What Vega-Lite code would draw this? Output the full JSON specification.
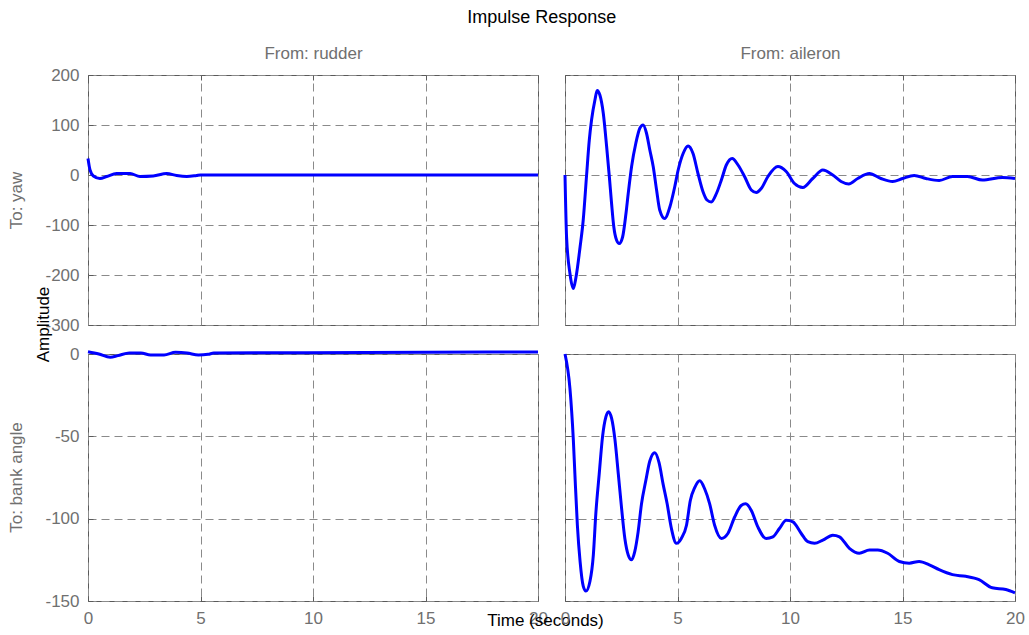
{
  "$schema": "https://vega.github.io/schema/vega-lite/v6.json",
  "padding": {"left": 6, "top": 8, "right": 5, "bottom": 5},
  "background": "white",
  "title": {"text": "Impulse Response", "anchor": "middle", "frame": "bounds", "font": "Liberation Sans", "fontSize": 18, "fontWeight": "normal", "color": "#000000", "baseline": "bottom", "offset": -1, "dx": 26},
  "columns": 2,
  "spacing": {"row": 29, "column": 27},
  "bounds": "flush",
  "datasets": {
    "yawRudder": [
      {"t": 0, "v": 33}, {"t": 0.09, "v": 10}, {"t": 0.24, "v": -2}, {"t": 0.53, "v": -7}, {"t": 0.83, "v": -3},
      {"t": 1.27, "v": 3}, {"t": 1.87, "v": 3}, {"t": 2.31, "v": -3}, {"t": 2.9, "v": -2}, {"t": 3.5, "v": 3},
      {"t": 3.94, "v": -1}, {"t": 4.39, "v": -3}, {"t": 4.83, "v": -1}, {"t": 5, "v": 0}, {"t": 10, "v": 0},
      {"t": 15, "v": 0}, {"t": 20, "v": 0}
    ],
    "yawAileron": [
      {"t": 0, "v": 0}, {"t": 0.07, "v": -124}, {"t": 0.22, "v": -197}, {"t": 0.37, "v": -227}, {"t": 0.49, "v": -204},
      {"t": 0.67, "v": -144}, {"t": 0.81, "v": -90}, {"t": 0.96, "v": 0}, {"t": 1.08, "v": 70}, {"t": 1.18, "v": 110},
      {"t": 1.33, "v": 150}, {"t": 1.43, "v": 169}, {"t": 1.55, "v": 160}, {"t": 1.7, "v": 124}, {"t": 1.85, "v": 57},
      {"t": 1.97, "v": -3}, {"t": 2.07, "v": -57}, {"t": 2.17, "v": -104}, {"t": 2.29, "v": -130}, {"t": 2.41, "v": -137},
      {"t": 2.56, "v": -124}, {"t": 2.71, "v": -77}, {"t": 2.81, "v": -37}, {"t": 2.96, "v": 17}, {"t": 3.15, "v": 64},
      {"t": 3.33, "v": 94}, {"t": 3.47, "v": 100}, {"t": 3.62, "v": 84}, {"t": 3.77, "v": 50}, {"t": 3.92, "v": 17},
      {"t": 4.07, "v": -30}, {"t": 4.21, "v": -70}, {"t": 4.43, "v": -87}, {"t": 4.66, "v": -64}, {"t": 4.88, "v": -23},
      {"t": 5.03, "v": 10}, {"t": 5.25, "v": 43}, {"t": 5.47, "v": 58}, {"t": 5.69, "v": 43}, {"t": 5.91, "v": 3},
      {"t": 6.13, "v": -33}, {"t": 6.31, "v": -50}, {"t": 6.5, "v": -54}, {"t": 6.73, "v": -37}, {"t": 6.95, "v": -10},
      {"t": 7.17, "v": 20}, {"t": 7.43, "v": 33}, {"t": 7.69, "v": 20}, {"t": 7.98, "v": -3}, {"t": 8.28, "v": -30},
      {"t": 8.5, "v": -35}, {"t": 8.72, "v": -27}, {"t": 9.02, "v": -3}, {"t": 9.46, "v": 17}, {"t": 9.83, "v": 7},
      {"t": 10.2, "v": -17}, {"t": 10.57, "v": -25}, {"t": 11.01, "v": -7}, {"t": 11.46, "v": 10}, {"t": 11.9, "v": 0},
      {"t": 12.27, "v": -13}, {"t": 12.61, "v": -18}, {"t": 13.01, "v": -7}, {"t": 13.53, "v": 3}, {"t": 14.04, "v": -7},
      {"t": 14.56, "v": -13}, {"t": 15.0, "v": -7}, {"t": 15.52, "v": -1}, {"t": 16.04, "v": -7}, {"t": 16.63, "v": -11},
      {"t": 17.22, "v": -3}, {"t": 17.89, "v": -3}, {"t": 18.55, "v": -10}, {"t": 19.44, "v": -5}, {"t": 20, "v": -7}
    ],
    "bankRudder": [
      {"t": 0, "v": 1.4}, {"t": 0.48, "v": 0}, {"t": 0.99, "v": -2}, {"t": 1.33, "v": -1}, {"t": 1.84, "v": 0.6},
      {"t": 2.35, "v": 0.6}, {"t": 2.78, "v": -0.6}, {"t": 3.38, "v": -0.6}, {"t": 3.89, "v": 1}, {"t": 4.4, "v": 0.6},
      {"t": 4.91, "v": -0.6}, {"t": 5.34, "v": -0.2}, {"t": 5.59, "v": 0.6}, {"t": 9.68, "v": 0.8}, {"t": 17.7, "v": 1.2},
      {"t": 20, "v": 1.2}
    ],
    "bankAileron": [
      {"t": 0, "v": 0}, {"t": 0.22, "v": -21}, {"t": 0.37, "v": -52}, {"t": 0.44, "v": -73}, {"t": 0.55, "v": -104},
      {"t": 0.67, "v": -126}, {"t": 0.81, "v": -141}, {"t": 0.93, "v": -144}, {"t": 1.11, "v": -138}, {"t": 1.26, "v": -122},
      {"t": 1.37, "v": -97}, {"t": 1.52, "v": -73}, {"t": 1.67, "v": -50}, {"t": 1.82, "v": -38}, {"t": 1.94, "v": -35},
      {"t": 2.07, "v": -39}, {"t": 2.22, "v": -52}, {"t": 2.37, "v": -73}, {"t": 2.51, "v": -93}, {"t": 2.66, "v": -112},
      {"t": 2.81, "v": -122}, {"t": 2.96, "v": -125}, {"t": 3.1, "v": -120}, {"t": 3.25, "v": -108}, {"t": 3.4, "v": -91},
      {"t": 3.59, "v": -77}, {"t": 3.77, "v": -65}, {"t": 3.99, "v": -60}, {"t": 4.18, "v": -66}, {"t": 4.36, "v": -79},
      {"t": 4.54, "v": -91}, {"t": 4.73, "v": -106}, {"t": 4.95, "v": -115}, {"t": 5.17, "v": -112}, {"t": 5.4, "v": -104},
      {"t": 5.57, "v": -89}, {"t": 5.77, "v": -81}, {"t": 5.99, "v": -77}, {"t": 6.21, "v": -82}, {"t": 6.43, "v": -91},
      {"t": 6.65, "v": -104}, {"t": 6.95, "v": -112}, {"t": 7.24, "v": -109}, {"t": 7.54, "v": -99}, {"t": 7.83, "v": -92},
      {"t": 8.03, "v": -91}, {"t": 8.28, "v": -95}, {"t": 8.57, "v": -105}, {"t": 8.94, "v": -112}, {"t": 9.24, "v": -111},
      {"t": 9.53, "v": -106}, {"t": 9.83, "v": -101}, {"t": 10.13, "v": -102}, {"t": 10.5, "v": -109}, {"t": 10.79, "v": -114},
      {"t": 11.09, "v": -115}, {"t": 11.46, "v": -113}, {"t": 11.9, "v": -110}, {"t": 12.2, "v": -111}, {"t": 12.64, "v": -118},
      {"t": 13.08, "v": -121}, {"t": 13.53, "v": -119}, {"t": 13.9, "v": -119}, {"t": 14.34, "v": -121}, {"t": 14.86, "v": -126},
      {"t": 15.3, "v": -127}, {"t": 15.74, "v": -126}, {"t": 16.19, "v": -128}, {"t": 16.63, "v": -131}, {"t": 17.22, "v": -134},
      {"t": 17.81, "v": -135}, {"t": 18.4, "v": -137}, {"t": 18.99, "v": -142}, {"t": 19.59, "v": -143}, {"t": 20, "v": -145}
    ]
  },
  "concat": [
    {
      "width": 450, "height": 250,
      "data": {"name": "yawRudder"},
      "mark": {"type": "line", "interpolate": "monotone"},
      "encoding": {
        "x": {"field": "t", "type": "quantitative", "scale": {"domain": [0, 20], "nice": false, "zero": false},
          "axis": {"orient": "top", "values": [0, 5, 10, 15, 20], "labels": false, "title": "From: rudder", "titleX": 225, "titleY": -22, "titleBaseline": "middle", "titleAlign": "center", "titleAngle": 0}},
        "y": {"field": "v", "type": "quantitative", "scale": {"domain": [-300, 200], "nice": false, "zero": false},
          "axis": {"values": [-300, -200, -100, 0, 100, 200], "labelExpr": "'' + datum.value", "title": "To: yaw", "titleX": -72, "titleY": 125, "titleBaseline": "middle", "titleAlign": "center", "titleAngle": 270}}
      }
    },
    {
      "width": 450, "height": 250,
      "data": {"name": "yawAileron"},
      "mark": {"type": "line", "interpolate": "monotone"},
      "encoding": {
        "x": {"field": "t", "type": "quantitative", "scale": {"domain": [0, 20], "nice": false, "zero": false},
          "axis": {"orient": "top", "values": [0, 5, 10, 15, 20], "labels": false, "title": "From: aileron", "titleX": 225, "titleY": -22, "titleBaseline": "middle", "titleAlign": "center", "titleAngle": 0}},
        "y": {"field": "v", "type": "quantitative", "scale": {"domain": [-300, 200], "nice": false, "zero": false},
          "axis": {"values": [-300, -200, -100, 0, 100, 200], "labels": false, "title": "Amplitude", "titleColor": "#000000", "titleX": -522, "titleY": 249, "titleBaseline": "middle", "titleAlign": "center", "titleAngle": 270}}
      }
    },
    {
      "width": 450, "height": 247,
      "data": {"name": "bankRudder"},
      "mark": {"type": "line", "interpolate": "monotone"},
      "encoding": {
        "x": {"field": "t", "type": "quantitative", "scale": {"domain": [0, 20], "nice": false, "zero": false},
          "axis": {"values": [0, 5, 10, 15, 20], "labelExpr": "'' + datum.value", "title": "Time (seconds)", "titleColor": "#000000", "titleX": 457, "titleY": 19, "titleBaseline": "middle", "titleAlign": "center", "titleAngle": 0}},
        "y": {"field": "v", "type": "quantitative", "scale": {"domain": [-150, 0], "nice": false, "zero": false},
          "axis": {"values": [-150, -100, -50, 0], "labelExpr": "'' + datum.value", "title": "To: bank angle", "titleX": -72, "titleY": 123, "titleBaseline": "middle", "titleAlign": "center", "titleAngle": 270}}
      }
    },
    {
      "width": 450, "height": 247,
      "data": {"name": "bankAileron"},
      "mark": {"type": "line", "interpolate": "monotone"},
      "encoding": {
        "x": {"field": "t", "type": "quantitative", "scale": {"domain": [0, 20], "nice": false, "zero": false},
          "axis": {"values": [0, 5, 10, 15, 20], "labelExpr": "'' + datum.value", "title": null}},
        "y": {"field": "v", "type": "quantitative", "scale": {"domain": [-150, 0], "nice": false, "zero": false},
          "axis": {"values": [-150, -100, -50, 0], "labels": false, "title": null}}
      }
    }
  ],
  "config": {
    "font": "Liberation Sans",
    "view": {"stroke": "#5a5a5a", "strokeWidth": 1},
    "axis": {
      "grid": true, "gridDash": [8, 5], "gridColor": "#8a8a8a", "gridWidth": 1, "gridOpacity": 1,
      "domain": false, "ticks": true, "tickSize": -5, "tickColor": "#5a5a5a", "tickWidth": 1,
      "labelFont": "Liberation Sans", "labelFontSize": 17, "labelColor": "#707070", "labelPadding": 14,
      "labelOverlap": false, "labelFlush": false, "labelBound": false,
      "titleFont": "Liberation Sans", "titleFontSize": 17, "titleFontWeight": "normal", "titleColor": "#707070"
    },
    "line": {"color": "#0000ff", "strokeWidth": 3}
  }
}
